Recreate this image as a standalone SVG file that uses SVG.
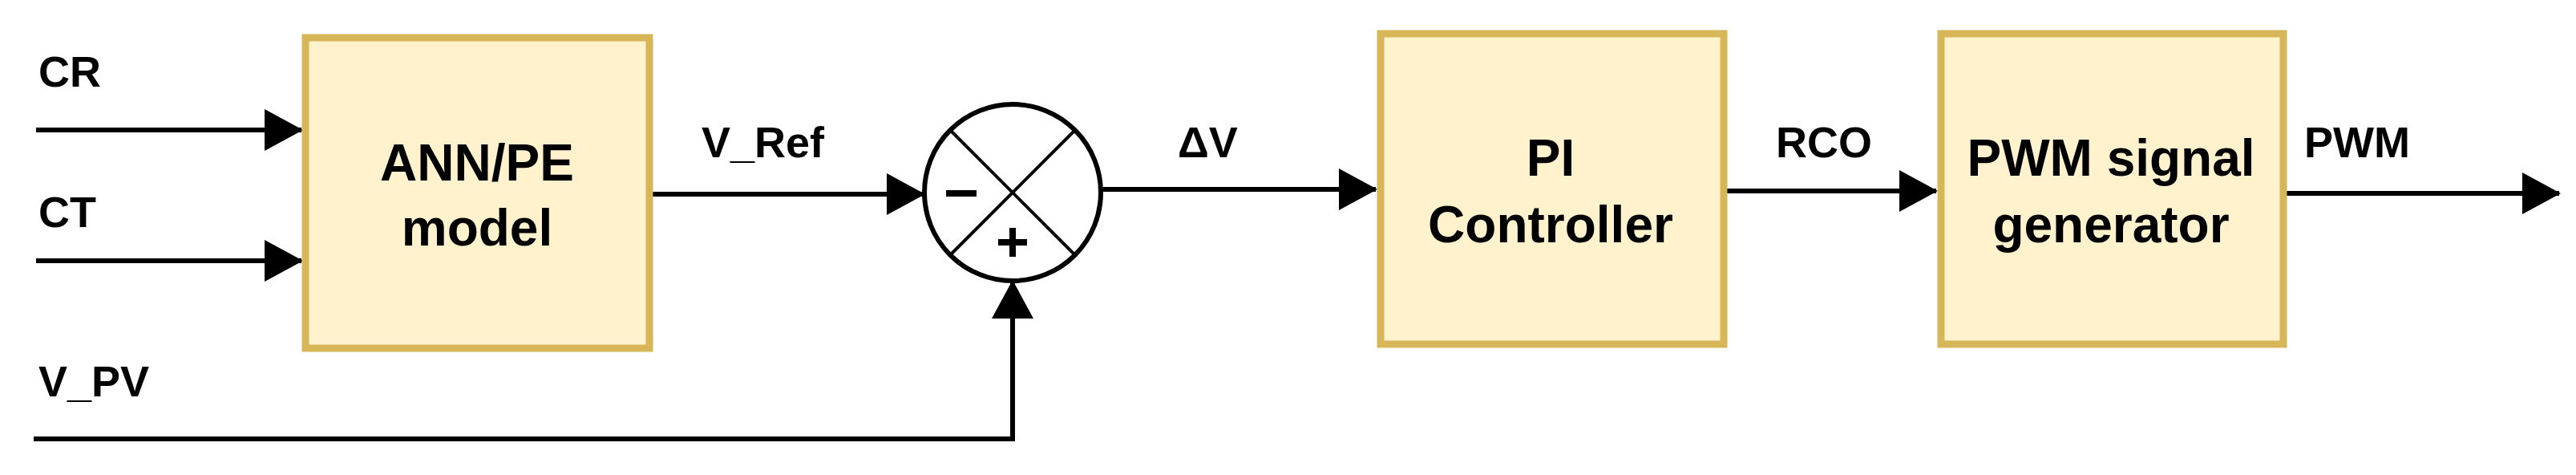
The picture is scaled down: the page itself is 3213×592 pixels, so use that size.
<svg xmlns="http://www.w3.org/2000/svg" width="3213" height="592" viewBox="0 0 3213 592">
<style>
.box{fill:#fff2cc;stroke:#d6b656;stroke-width:9}
.ln{fill:none;stroke:#000;stroke-width:6}
.t{font-family:"Liberation Sans",Arial,sans-serif;font-weight:bold;fill:#000}
.bt{font-size:64px;text-anchor:middle}
.lb{font-size:54px}
</style>
<defs>
<marker id="ah" markerWidth="10" markerHeight="10" refX="9" refY="5" orient="auto" markerUnits="userSpaceOnUse" viewBox="0 0 10 10" style="overflow:visible">
<path d="M0,0 L10,5 L0,10 Z" transform="scale(1)" fill="#000"/>
</marker>
<marker id="a" viewBox="0 0 48 52" refX="46" refY="26" markerWidth="48" markerHeight="52" markerUnits="userSpaceOnUse" orient="auto"><path d="M0,0 L48,26 L0,52 Z" fill="#000"/></marker>
</defs>
<g id="connectors">
<path class="ln" d="M45,162 H376" marker-end="url(#a)"/>
<path class="ln" d="M45,325 H376" marker-end="url(#a)"/>
<path class="ln" d="M814,242 H1152" marker-end="url(#a)"/>
<path class="ln" d="M42,547 H1263 V351" marker-end="url(#a)"/>
<path class="ln" d="M1373,236 H1716" marker-end="url(#a)"/>
<path class="ln" d="M2154,238 H2415" marker-end="url(#a)"/>
<path class="ln" d="M2852,241 H3192" marker-end="url(#a)"/>
</g>
<g id="labels">
<text class="t lb" x="48" y="108">CR</text>
<text class="t lb" x="48" y="283">CT</text>
<text class="t lb" x="48" y="494">V_PV</text>
<text class="t lb" x="875" y="196">V_Ref</text>
<text class="t lb" x="1469" y="196">ΔV</text>
<text class="t lb" x="2215" y="196">RCO</text>
<text class="t lb" x="2874" y="196">PWM</text>
</g>
<g id="ann">
<rect class="box" x="381" y="47" width="429" height="387"/>
<text class="t bt" x="595" y="225">ANN/PE</text>
<text class="t bt" x="595" y="306">model</text>
</g>
<g id="sum">
<circle cx="1263" cy="240" r="110" fill="#fff" stroke="#000" stroke-width="6"/>
<path d="M1185,162 L1341,318 M1341,162 L1185,318" stroke="#000" stroke-width="4"/>
<path d="M1180,241 H1218" stroke="#000" stroke-width="8"/>
<path d="M1245,302 H1281 M1263,284 V320" stroke="#000" stroke-width="8"/>
</g>
<g id="pi">
<rect class="box" x="1722" y="42" width="428" height="387"/>
<text class="t bt" x="1934" y="219">PI</text>
<text class="t bt" x="1934" y="302">Controller</text>
</g>
<g id="pwm">
<rect class="box" x="2421" y="42" width="427" height="387"/>
<text class="t bt" x="2633" y="219">PWM signal</text>
<text class="t bt" x="2633" y="302">generator</text>
</g>
</svg>
